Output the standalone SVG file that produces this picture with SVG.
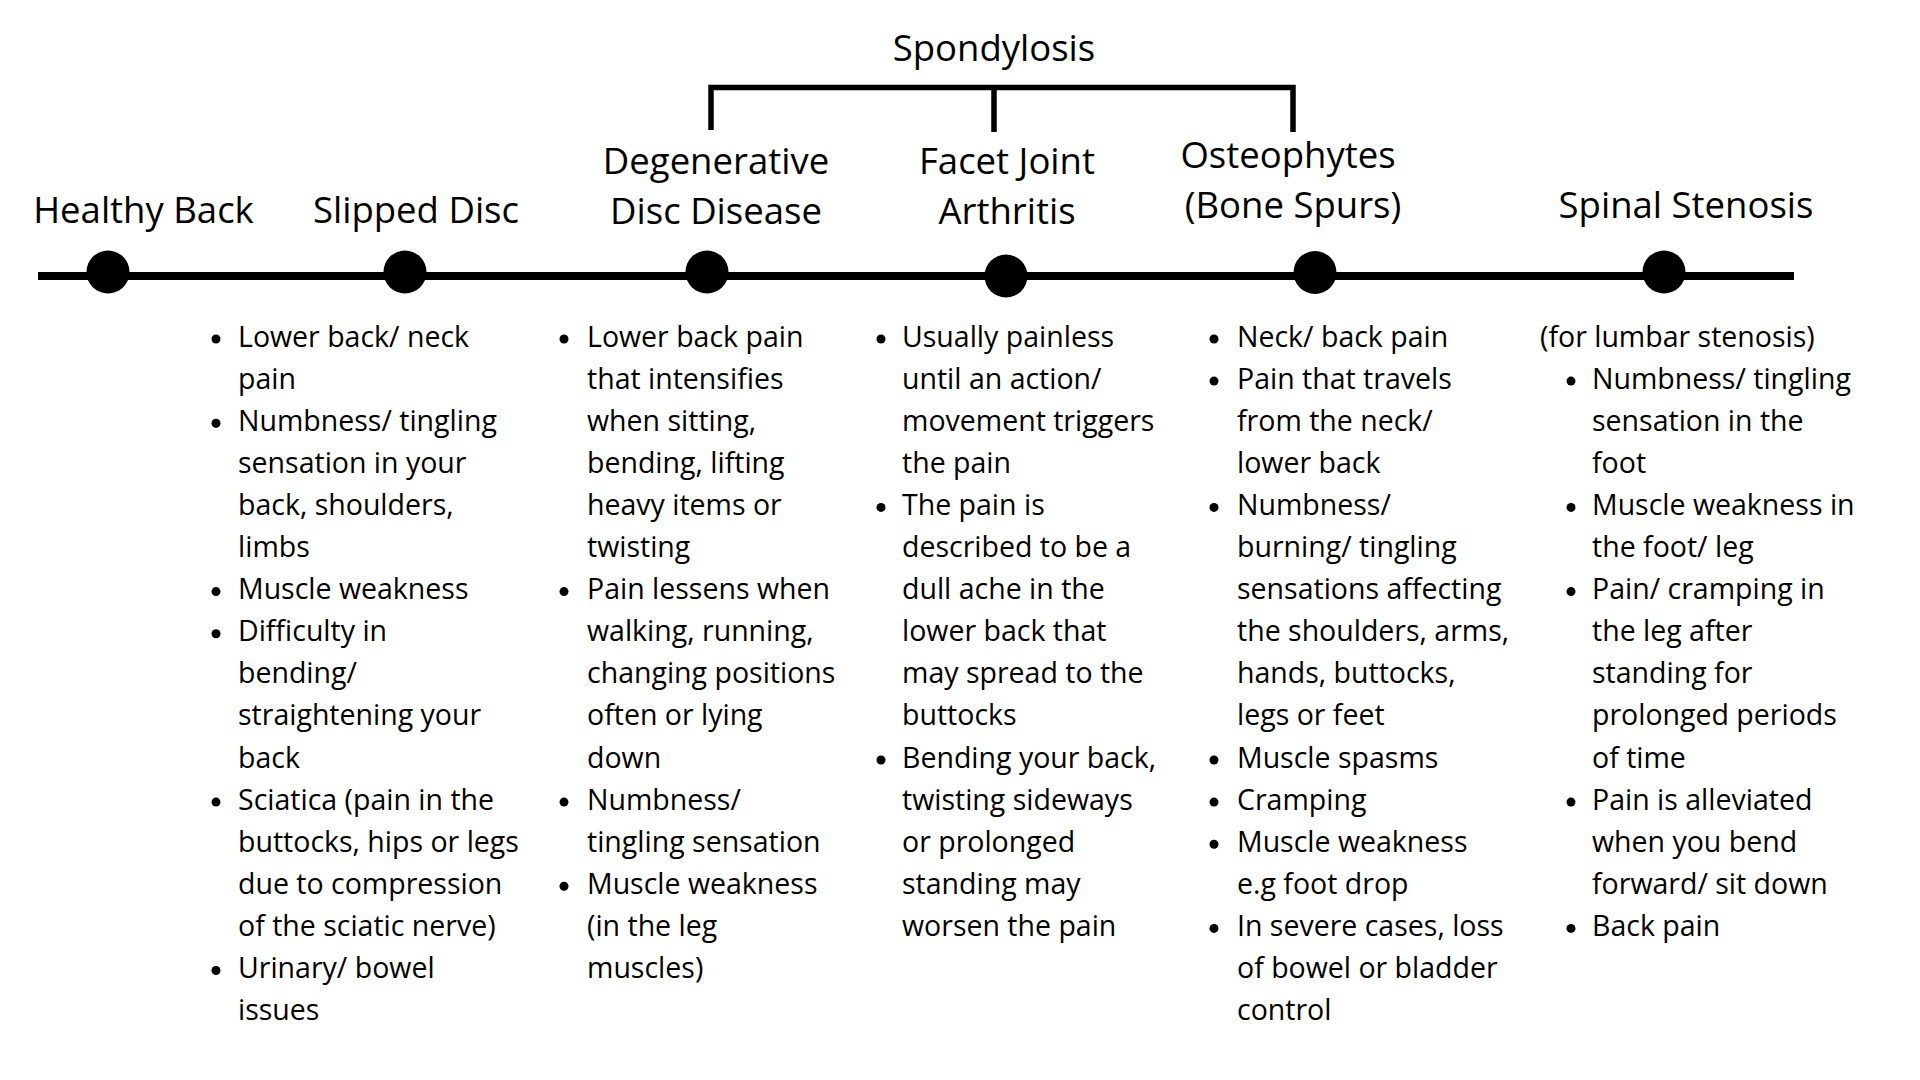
<svg xmlns="http://www.w3.org/2000/svg" width="1920" height="1080" viewBox="0 0 1920 1080">
<style>
.t{font-family:"Open Sans","Liberation Sans",sans-serif;font-size:36.5px;fill:#000;text-anchor:middle}
.b{font-family:"Open Sans","Liberation Sans",sans-serif;font-size:28.5px;fill:#000}
.ln{stroke:#000;fill:none}
</style>
<defs>
<circle id="dot" r="4.5" fill="#000"/>
</defs>
<rect width="1920" height="1080" fill="#fff"/>
<g id="connectors">
<line class="ln" x1="38" y1="276" x2="1794" y2="276" stroke-width="8"/>
<path class="ln" d="M711 130 V87.5 H1293 V132 M994 87.5 V132" stroke-width="5.5"/>
</g>
<g id="spondylosis"><text class="t" x="994" y="61">Spondylosis</text></g>
<g id="healthy-back">
<circle cx="108" cy="272" r="21.5"/>
<text class="t" x="143.5" y="223">Healthy Back</text>
</g>
<g id="slipped-disc">
<circle cx="405" cy="272" r="21.5"/>
<text class="t" x="416" y="223">Slipped Disc</text>
<g class="b">
<use href="#dot" x="216" y="339"/><text x="238" y="346.5">Lower back/ neck</text>
<text x="238" y="388.6">pain</text>
<use href="#dot" x="216" y="423.2"/><text x="238" y="430.7">Numbness/ tingling</text>
<text x="238" y="472.8">sensation in your</text>
<text x="238" y="514.9">back, shoulders,</text>
<text x="238" y="557">limbs</text>
<use href="#dot" x="216" y="591.6"/><text x="238" y="599.1">Muscle weakness</text>
<use href="#dot" x="216" y="633.7"/><text x="238" y="641.2">Difficulty in</text>
<text x="238" y="683.3">bending/</text>
<text x="238" y="725.4">straightening your</text>
<text x="238" y="767.5">back</text>
<use href="#dot" x="216" y="802.1"/><text x="238" y="809.6">Sciatica (pain in the</text>
<text x="238" y="851.7">buttocks, hips or legs</text>
<text x="238" y="893.8">due to compression</text>
<text x="238" y="935.9">of the sciatic nerve)</text>
<use href="#dot" x="216" y="970.5"/><text x="238" y="978">Urinary/ bowel</text>
<text x="238" y="1020.1">issues</text>
</g>
</g>
<g id="degenerative-disc-disease">
<circle cx="707" cy="272" r="21.5"/>
<text class="t" x="716" y="173.5">Degenerative</text>
<text class="t" x="716" y="223.5">Disc Disease</text>
<g class="b">
<use href="#dot" x="564" y="339"/><text x="587" y="346.5">Lower back pain</text>
<text x="587" y="388.6">that intensifies</text>
<text x="587" y="430.7">when sitting,</text>
<text x="587" y="472.8">bending, lifting</text>
<text x="587" y="514.9">heavy items or</text>
<text x="587" y="557">twisting</text>
<use href="#dot" x="564" y="591.6"/><text x="587" y="599.1">Pain lessens when</text>
<text x="587" y="641.2">walking, running,</text>
<text x="587" y="683.3">changing positions</text>
<text x="587" y="725.4">often or lying</text>
<text x="587" y="767.5">down</text>
<use href="#dot" x="564" y="802.1"/><text x="587" y="809.6">Numbness/</text>
<text x="587" y="851.7">tingling sensation</text>
<use href="#dot" x="564" y="886.3"/><text x="587" y="893.8">Muscle weakness</text>
<text x="587" y="935.9">(in the leg</text>
<text x="587" y="978">muscles)</text>
</g>
</g>
<g id="facet-joint-arthritis">
<circle cx="1006" cy="276" r="21.5"/>
<text class="t" x="1007" y="173.5">Facet Joint</text>
<text class="t" x="1007" y="223.5">Arthritis</text>
<g class="b">
<use href="#dot" x="881" y="339"/><text x="902" y="346.5">Usually painless</text>
<text x="902" y="388.6">until an action/</text>
<text x="902" y="430.7">movement triggers</text>
<text x="902" y="472.8">the pain</text>
<use href="#dot" x="881" y="507.4"/><text x="902" y="514.9">The pain is</text>
<text x="902" y="557">described to be a</text>
<text x="902" y="599.1">dull ache in the</text>
<text x="902" y="641.2">lower back that</text>
<text x="902" y="683.3">may spread to the</text>
<text x="902" y="725.4">buttocks</text>
<use href="#dot" x="881" y="760"/><text x="902" y="767.5">Bending your back,</text>
<text x="902" y="809.6">twisting sideways</text>
<text x="902" y="851.7">or prolonged</text>
<text x="902" y="893.8">standing may</text>
<text x="902" y="935.9">worsen the pain</text>
</g>
</g>
<g id="osteophytes">
<circle cx="1315" cy="272.5" r="21.5"/>
<text class="t" x="1288" y="168">Osteophytes</text>
<text class="t" x="1293" y="218">(Bone Spurs)</text>
<g class="b">
<use href="#dot" x="1214" y="339"/><text x="1237" y="346.5">Neck/ back pain</text>
<use href="#dot" x="1214" y="381.1"/><text x="1237" y="388.6">Pain that travels</text>
<text x="1237" y="430.7">from the neck/</text>
<text x="1237" y="472.8">lower back</text>
<use href="#dot" x="1214" y="507.4"/><text x="1237" y="514.9">Numbness/</text>
<text x="1237" y="557">burning/ tingling</text>
<text x="1237" y="599.1">sensations affecting</text>
<text x="1237" y="641.2">the shoulders, arms,</text>
<text x="1237" y="683.3">hands, buttocks,</text>
<text x="1237" y="725.4">legs or feet</text>
<use href="#dot" x="1214" y="760"/><text x="1237" y="767.5">Muscle spasms</text>
<use href="#dot" x="1214" y="802.1"/><text x="1237" y="809.6">Cramping</text>
<use href="#dot" x="1214" y="844.2"/><text x="1237" y="851.7">Muscle weakness</text>
<text x="1237" y="893.8">e.g foot drop</text>
<use href="#dot" x="1214" y="928.4"/><text x="1237" y="935.9">In severe cases, loss</text>
<text x="1237" y="978">of bowel or bladder</text>
<text x="1237" y="1020.1">control</text>
</g>
</g>
<g id="spinal-stenosis">
<circle cx="1664" cy="272" r="21.5"/>
<text class="t" x="1686" y="218">Spinal Stenosis</text>
<g class="b">
<text x="1540" y="346.5">(for lumbar stenosis)</text>
<use href="#dot" x="1571" y="381.1"/><text x="1592" y="388.6">Numbness/ tingling</text>
<text x="1592" y="430.7">sensation in the</text>
<text x="1592" y="472.8">foot</text>
<use href="#dot" x="1571" y="507.4"/><text x="1592" y="514.9">Muscle weakness in</text>
<text x="1592" y="557">the foot/ leg</text>
<use href="#dot" x="1571" y="591.6"/><text x="1592" y="599.1">Pain/ cramping in</text>
<text x="1592" y="641.2">the leg after</text>
<text x="1592" y="683.3">standing for</text>
<text x="1592" y="725.4">prolonged periods</text>
<text x="1592" y="767.5">of time</text>
<use href="#dot" x="1571" y="802.1"/><text x="1592" y="809.6">Pain is alleviated</text>
<text x="1592" y="851.7">when you bend</text>
<text x="1592" y="893.8">forward/ sit down</text>
<use href="#dot" x="1571" y="928.4"/><text x="1592" y="935.9">Back pain</text>
</g>
</g>
</svg>
